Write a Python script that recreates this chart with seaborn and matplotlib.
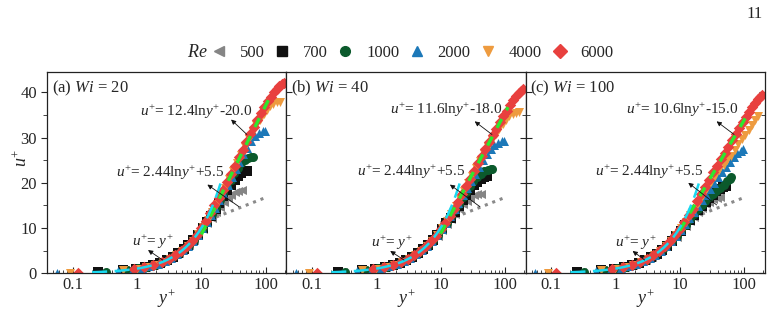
import numpy as np
import pandas as pd
import seaborn as sns
import matplotlib.pyplot as plt

# Reynolds numbers and marker styles
re_list = [500, 700, 1000, 2000, 4000, 6000]
re_colors = ['#858585', '#111111', '#0b5a2c', '#1c78b8', '#ee9b3f', '#e8403e']
re_markers = ['<', 's', 'o', '^', 'v', 'D']

# y+ grid of each Re (same in the three panels)
y500 = [0.3, 0.65, 1.0, 1.4, 1.85, 2.35, 2.95, 3.65, 4.45, 5.35, 6.4, 7.6, 9, 10.6, 12.4,
        14.5, 16.8, 19.4, 22.3, 25.5, 29, 33, 37.5, 43]
y700 = [0.25, 0.6, 0.95, 1.35, 1.8, 2.3, 2.9, 3.6, 4.4, 5.3, 6.3, 7.5, 8.9, 10.5, 12.3,
        14.3, 16.6, 19.1, 22, 25.2, 28.8, 32.8, 37.2, 42, 47, 52]
y1000 = [0.33, 0.7, 1.05, 1.45, 1.9, 2.4, 3.0, 3.7, 4.5, 5.4, 6.4, 7.6, 9, 10.6, 12.4,
         14.4, 16.7, 19.2, 22, 25, 28.5, 32.5, 37, 42, 48, 54, 60, 63]
y2000 = [0.057, 0.5, 0.85, 1.2, 1.6, 2.1, 2.7, 3.4, 4.2, 5.1, 6.2, 7.4, 8.8, 10.4, 12.2,
         14.2, 16.5, 19, 22, 25.5, 29.5, 34, 39, 45, 52, 60, 69, 79, 90, 96]
y4000 = [0.09, 0.6, 1.0, 1.4, 1.9, 2.5, 3.2, 4.0, 5.0, 6.1, 7.4, 8.9, 10.6, 12.5, 14.7,
         17.2, 20, 23.2, 27, 31, 36, 41.5, 48, 55, 63, 72, 82, 93, 105, 118, 132, 148, 165]
y6000 = [0.12, 0.9, 1.3, 1.8, 2.4, 3.1, 3.9, 4.8, 5.9, 7.1, 8.5, 10, 11.8, 13.8, 16,
         18.5, 21.5, 25, 29, 33.5, 38.5, 44, 50, 57, 65, 74, 84, 95, 107, 120, 134, 149,
         164, 178, 192]

# u+ profiles, Wi = 20
u500_wi20 = [0.3, 0.65, 1.0, 1.4, 1.85, 2.35, 2.95, 3.65, 4.45, 5.3, 6.3, 7.4, 8.4, 9.7,
             11.0, 12.3, 13.5, 14.7, 15.8, 16.7, 17.4, 17.9, 18.2, 18.3]
u700_wi20 = [0.25, 0.6, 0.95, 1.35, 1.8, 2.3, 2.9, 3.6, 4.4, 5.3, 6.2, 7.3, 8.5, 9.9, 11.3,
             12.7, 14.2, 15.6, 17.0, 18.3, 19.5, 20.6, 21.5, 22.1, 22.5, 22.6]
u1000_wi20 = [0.33, 0.7, 1.05, 1.45, 1.9, 2.4, 3.0, 3.7, 4.5, 5.4, 6.3, 7.4, 8.6, 10.0,
              11.5, 13.0, 14.6, 16.1, 17.7, 19.2, 20.7, 22.1, 23.3, 24.3, 25.1, 25.5,
              25.7, 25.8]
u2000_wi20 = [0.057, 0.5, 0.85, 1.2, 1.6, 2.1, 2.7, 3.4, 4.2, 5.1, 6.1, 7.2, 8.5, 9.9,
              11.4, 12.9, 14.5, 16.1, 17.8, 19.5, 21.3, 23.0, 24.7, 26.3, 27.8, 29.2,
              30.3, 31.0, 31.4, 31.5]
u4000_wi20 = [0.09, 0.6, 1.0, 1.4, 1.9, 2.5, 3.2, 4.0, 5.0, 6.0, 7.2, 8.6, 10.1, 11.7,
              13.5, 15.3, 17.1, 18.9, 20.8, 22.6, 24.4, 26.2, 28.0, 29.6, 31.2, 32.7,
              34.0, 35.2, 36.2, 37.0, 37.5, 37.8, 37.9]
u6000_wi20 = [0.12, 0.9, 1.3, 1.8, 2.4, 3.1, 3.9, 4.8, 5.9, 7.0, 8.4, 9.9, 11.5, 13.2,
              15.0, 16.6, 18.3, 20.1, 22.0, 23.8, 25.6, 27.3, 29.0, 30.7, 32.3, 33.9,
              35.4, 36.8, 38.0, 39.1, 40.0, 40.8, 41.4, 41.8, 42.0]

# u+ profiles, Wi = 40
u500_wi40 = [0.3, 0.65, 1.0, 1.4, 1.85, 2.35, 2.95, 3.65, 4.45, 5.3, 6.3, 7.3, 8.3, 9.6,
             10.8, 12.0, 13.1, 14.2, 15.2, 16.0, 16.7, 17.2, 17.5, 17.6]
u700_wi40 = [0.25, 0.6, 0.95, 1.35, 1.8, 2.3, 2.9, 3.6, 4.4, 5.3, 6.2, 7.3, 8.4, 9.7, 11.0,
             12.3, 13.6, 14.9, 16.1, 17.3, 18.4, 19.4, 20.2, 20.8, 21.2, 21.4]
u1000_wi40 = [0.33, 0.7, 1.05, 1.45, 1.9, 2.4, 3.0, 3.7, 4.5, 5.4, 6.3, 7.4, 8.5, 9.8,
              11.2, 12.6, 14.0, 15.4, 16.8, 18.0, 19.2, 20.3, 21.2, 21.9, 22.5, 22.8,
              23.0, 23.0]
u2000_wi40 = [0.057, 0.5, 0.85, 1.2, 1.6, 2.1, 2.7, 3.4, 4.2, 5.1, 6.1, 7.2, 8.4, 9.8,
              11.2, 12.6, 14.1, 15.6, 17.2, 18.8, 20.4, 22.0, 23.5, 25.0, 26.3, 27.5,
              28.4, 28.9, 29.2, 29.3]
u4000_wi40 = [0.09, 0.6, 1.0, 1.4, 1.9, 2.5, 3.2, 4.0, 5.0, 6.0, 7.2, 8.5, 10.0, 11.5,
              13.1, 14.8, 16.5, 18.2, 19.9, 21.5, 23.2, 24.8, 26.4, 27.9, 29.4, 30.8,
              32.0, 33.1, 34.0, 34.7, 35.2, 35.5, 35.6]
u6000_wi40 = [0.12, 0.9, 1.3, 1.8, 2.4, 3.1, 3.9, 4.8, 5.9, 7.0, 8.3, 9.7, 11.2, 12.7,
              14.2, 15.8, 17.5, 19.2, 20.9, 22.6, 24.3, 25.9, 27.4, 29.0, 30.5, 32.0,
              33.4, 34.8, 36.0, 37.2, 38.3, 39.2, 39.9, 40.4, 40.7]

# u+ profiles, Wi = 100
u500_wi100 = [0.3, 0.65, 1.0, 1.4, 1.85, 2.35, 2.95, 3.6, 4.4, 5.2, 6.2, 7.2, 8.1, 9.3,
              10.4, 11.5, 12.5, 13.5, 14.4, 15.2, 15.8, 16.3, 16.6, 16.8]
u700_wi100 = [0.25, 0.6, 0.95, 1.35, 1.8, 2.3, 2.9, 3.6, 4.3, 5.2, 6.1, 7.2, 8.2, 9.4,
              10.6, 11.7, 12.8, 13.9, 14.9, 15.8, 16.7, 17.4, 18.1, 18.6, 19.0, 19.2]
u1000_wi100 = [0.33, 0.7, 1.05, 1.45, 1.9, 2.4, 3.0, 3.7, 4.4, 5.3, 6.2, 7.2, 8.3, 9.5,
               10.7, 11.9, 13.1, 14.2, 15.1, 16.0, 16.8, 17.5, 18.1, 18.8, 19.6, 20.3,
               20.9, 21.3]
u2000_wi100 = [0.057, 0.5, 0.85, 1.2, 1.6, 2.1, 2.7, 3.4, 4.1, 5.0, 6.0, 7.1, 8.3, 9.6,
               10.9, 12.2, 13.5, 14.8, 16.1, 17.4, 18.7, 20.0, 21.2, 22.4, 23.6, 24.7,
               25.7, 26.5, 27.1, 27.4]
u4000_wi100 = [0.09, 0.6, 1.0, 1.4, 1.9, 2.5, 3.2, 4.0, 5.0, 6.0, 7.2, 8.5, 9.9, 11.3,
               12.8, 14.3, 15.8, 17.3, 18.8, 20.2, 21.6, 22.8, 24.0, 25.0, 26.0, 27.3,
               28.5, 29.6, 30.6, 31.7, 32.8, 33.8, 34.7]
u6000_wi100 = [0.12, 0.9, 1.3, 1.8, 2.4, 3.1, 3.9, 4.8, 5.9, 7.0, 8.4, 9.8, 11.3, 12.8,
               14.3, 15.9, 17.5, 19.1, 20.7, 22.3, 23.8, 25.2, 26.6, 28.0, 29.4, 30.8,
               32.1, 33.4, 34.6, 35.7, 36.8, 37.7, 38.5, 39.1, 39.5]

# fitted elastic-layer laws of each panel, and the Newtonian log law
wi_list = [20, 40, 100]
fit_slope = [12.4, 11.6, 10.6]
fit_const = [-20.0, -18.0, -15.0]
loglaw_slope, loglaw_const = 2.44, 5.5

y_grids = [y500, y700, y1000, y2000, y4000, y6000]
u_sets = [
    [u500_wi20, u700_wi20, u1000_wi20, u2000_wi20, u4000_wi20, u6000_wi20],
    [u500_wi40, u700_wi40, u1000_wi40, u2000_wi40, u4000_wi40, u6000_wi40],
    [u500_wi100, u700_wi100, u1000_wi100, u2000_wi100, u4000_wi100, u6000_wi100],
]

rows = []
for wi, u_set in zip(wi_list, u_sets):
    for re, yy, uu in zip(re_list, y_grids, u_set):
        for a, b in zip(yy, uu):
            rows.append((wi, re, a, b))
df = pd.DataFrame(rows, columns=['Wi', 'Re', 'y+', 'u+'])

sns.set_style('ticks')
plt.rcParams['font.family'] = ['Liberation Serif', 'DejaVu Serif']
plt.rcParams['mathtext.fontset'] = 'custom'
plt.rcParams['mathtext.rm'] = 'Liberation Serif'
plt.rcParams['mathtext.it'] = 'Liberation Serif:italic'

fig, axes = plt.subplots(1, 3, figsize=(7.74, 3.15), dpi=100, sharey=True)
fig.subplots_adjust(left=0.061, right=0.988, bottom=0.133, top=0.771, wspace=0)

panel_tags = ['(a)', '(b)', '(c)']
# annotation layout: (text x, text y, arrow head, arrow tail)
ann_fit = [((1.11, 35.8), (29, 34.0), (51, 30.7)),
           ((1.65, 36.2), (34, 33.6), (63, 30.7)),
           ((1.44, 36.2), (37.5, 33.6), (70, 30.7))]
ann_log = [((0.475, 22.2), (12.4, 19.6), (38.5, 14.7)),
           ((0.51, 22.4), (14, 19.6), (41, 14.7)),
           ((0.48, 22.4), (13.6, 20.0), (37.5, 15.1))]
ann_lin = [((0.84, 6.9), (1.48, 5.1), (2.5, 2.9)),
           ((0.84, 6.7), (1.65, 4.9), (2.7, 2.9)),
           ((1.0, 6.7), (1.85, 4.9), (2.85, 2.9))]

y_log = np.geomspace(10, 100, 20)
y_lin = np.geomspace(0.2, 21, 40)

for i, ax in enumerate(axes):
    wi = wi_list[i]
    sub = df[df['Wi'] == wi]

    ax.plot(y_log, loglaw_slope * np.log(y_log) + loglaw_const, color='#8a8a8a',
            lw=2.2, ls=(0, (1, 1.6)), zorder=1)

    for re, col, mk in zip(re_list, re_colors, re_markers):
        d = sub[sub['Re'] == re]
        sns.scatterplot(data=d, x='y+', y='u+', color=col, marker=mk,
                        s=34 if mk == 'D' else 42,
                        linewidth=0, ax=ax, zorder=2, legend=False)

    y_fit = np.geomspace(10, 112, 20)
    ax.plot(y_fit, fit_slope[i] * np.log(y_fit) + fit_const[i], color='#2ee82e',
            lw=2.4, ls=(0, (3, 3)), zorder=3)
    ax.plot(y_lin, y_lin, color='#19d9f0', lw=1.8, ls=(0, (6, 3)), zorder=3)

    ax.set_xscale('log')
    ax.set_xlim(0.04, 210)
    ax.set_ylim(0, 44.5)
    ax.set_xticks([0.1, 1, 10, 100])
    ax.set_xticklabels(['0.1', '1', '10', '100'])
    ax.set_yticks([0, 10, 20, 30, 40])
    ax.set_yticks([5, 15, 25, 35], minor=True)
    ax.tick_params(axis='x', which='both', direction='in', labelsize=12, pad=3)
    ax.tick_params(axis='x', which='major', length=4)
    ax.tick_params(axis='x', which='minor', length=2.5)
    ax.tick_params(axis='y', which='both', direction='in', right=True, labelsize=12)
    ax.tick_params(axis='y', which='major', length=4)
    ax.tick_params(axis='y', which='minor', length=3)
    if i == 0:
        ax.tick_params(axis='y', which='both', direction='out')
    for sp in ax.spines.values():
        sp.set_visible(True)
        sp.set_linewidth(0.9)
        sp.set_color('#222222')

    ax.set_xlabel(r'$y^{+}$', fontsize=13, labelpad=-4)
    ax.set_ylabel('')
    ax.text(0.02, 0.965, panel_tags[i] + r' $Wi$ = ' + str(wi), transform=ax.transAxes,
            fontsize=12, ha='left', va='top')

    arrow = dict(arrowstyle='-|>', color='#111111', lw=0.6, mutation_scale=7,
                 shrinkA=0, shrinkB=0)
    (tx, ty), head, tail = ann_fit[i]
    ax.text(tx, ty, r'$u^{+}$= %.1fln$y^{+}$%.1f' % (fit_slope[i], fit_const[i]),
            fontsize=11, ha='left', va='center')
    ax.annotate('', xy=head, xytext=tail, arrowprops=arrow)
    (tx, ty), head, tail = ann_log[i]
    ax.text(tx, ty, r'$u^{+}$= %.2fln$y^{+}$+%.1f' % (loglaw_slope, loglaw_const),
            fontsize=11, ha='left', va='center')
    ax.annotate('', xy=head, xytext=tail, arrowprops=arrow)
    (tx, ty), head, tail = ann_lin[i]
    ax.text(tx, ty, r'$u^{+}$= $y^{+}$', fontsize=11, ha='left', va='center')
    ax.annotate('', xy=head, xytext=tail, arrowprops=arrow)

fig.text(0.028, 0.5, r'$u^{+}$', rotation=90, fontsize=13, ha='center', va='center')

# legend row across the top
handles = [plt.Line2D([], [], ls='none', marker=mk, color=col, markersize=7)
           for col, mk in zip(re_colors, re_markers)]
fig.text(0.255, 0.832, r'$Re$', fontsize=13, ha='center', va='center')
fig.legend(handles, [str(r) for r in re_list], loc='center left',
           bbox_to_anchor=(0.272, 0.832), ncol=6, frameon=False, fontsize=12,
           handlelength=1.0, handletextpad=0.75, columnspacing=0.55, borderaxespad=0,
           borderpad=0)

fig.text(0.985, 0.955, '11', fontsize=12, ha='right', va='center')

fig.savefig('out.png', dpi=100)
